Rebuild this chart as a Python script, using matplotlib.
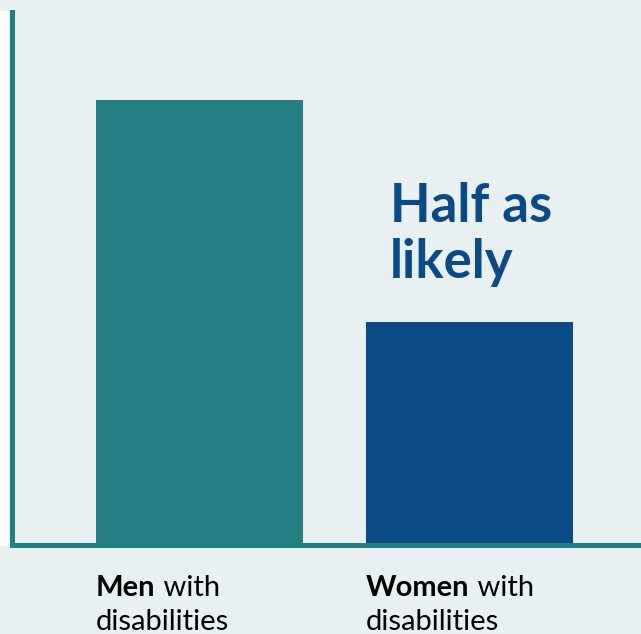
import matplotlib
matplotlib.use('Agg')
import matplotlib.pyplot as plt
from matplotlib.patches import Rectangle
import matplotlib.transforms as mtransforms

plt.rcParams['font.family'] = ['Lato', 'DejaVu Sans']

groups = ['Men', 'Women']
values = [100, 50]
colors = ['#237f82', '#0b4a84']
annotation = 'Half as\nlikely'

bg = '#e8f0f1'
W, H = 641, 634
fig = plt.figure(figsize=(W / 100, H / 100), dpi=100, facecolor=bg)

# axes box in pixels: spine centres at x=11.5, y=544.5, top at y=12
left, bottom, top = 11.5, 544.5, 12
ax = fig.add_axes([left / W, (H - bottom) / H, (W - left) / W, (bottom - top) / H])
ax.set_facecolor(bg)

# white strip at the far left
fig.add_artist(Rectangle((0, (H - 546) / H), 8.5 / W, (546 - 11) / H,
                         transform=fig.transFigure, facecolor='white',
                         edgecolor='none', zorder=0))

width = 207 / 270
x = [0, 1]
ax.bar(x, values, width=width, color=colors, zorder=1)
ax.set_xlim(-(199.5 - left) / 270, 1 + (W - 469.5) / 270)
ax.set_ylim(0, 100 * (bottom - top) / (bottom - 100))

for s in ['top', 'right']:
    ax.spines[s].set_visible(False)
for s in ['left', 'bottom']:
    ax.spines[s].set_color('#237f82')
    ax.spines[s].set_linewidth(3.6)
    ax.spines[s].set_zorder(3)
ax.set_xticks([])
ax.set_yticks([])

trans = mtransforms.blended_transform_factory(ax.transData, ax.transAxes)
y1 = (bottom - 595.5) / (bottom - top)
y2 = (bottom - 629.5) / (bottom - top)
for xi, g in zip(x, groups):
    t = ax.text(xi - width / 2, y1, g, transform=trans, fontsize=21,
                fontweight='bold', color='black', va='baseline', clip_on=False)
    ax.annotate(' with', xy=(1, 0), xycoords=t, fontsize=21, color='black',
                va='bottom', ha='left', annotation_clip=False)
    ax.text(xi - width / 2, y2, 'disabilities', transform=trans, fontsize=21,
            color='black', va='baseline', clip_on=False)

# baseline of the last line
ya = (bottom - 278) / (bottom - top)
ax.text(1 - width / 2 + 24 / 270, ya, annotation, transform=trans,
        fontsize=38, fontweight='bold', color='#0b4a84', va='baseline',
        linespacing=1.18)

fig.savefig('out.png', dpi=100, facecolor=bg)
